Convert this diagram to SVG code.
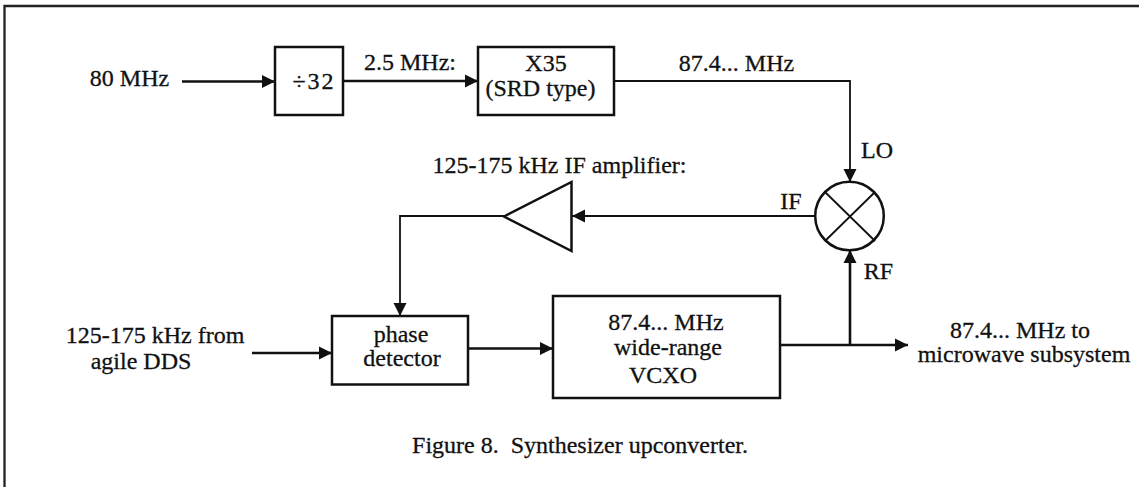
<svg xmlns="http://www.w3.org/2000/svg" width="1139" height="487" viewBox="0 0 1139 487">
<style>
text{font-family:"Liberation Serif","Times New Roman",serif;font-size:24px;fill:#111;stroke:#111;stroke-width:0.300;text-anchor:middle}
.b{fill:#fff;stroke:#111;stroke-width:2.5}
.c{fill:none;stroke:#111;stroke-width:1.800}
.t{stroke-width:2.6}
.f{fill:none;stroke:#222;stroke-width:2.300}
</style>
<defs>
<marker id="a" markerUnits="userSpaceOnUse" markerWidth="14" markerHeight="14" refX="13" refY="7" orient="auto"><path d="M0,0.500L13,7L0,13.500Z" fill="#111"/></marker>
</defs>
<rect width="1139" height="487" fill="#fff"/>
<path class="f" d="M4.500,487V6H1139"/>
<g id="connectors">
<path class="c t" marker-end="url(#a)" d="M182,81.500H275"/>
<path class="c t" marker-end="url(#a)" d="M343,81H478"/>
<path class="c" marker-end="url(#a)" d="M614,81H850V182"/>
<path class="c" marker-end="url(#a)" d="M815,216H572"/>
<path class="c" marker-end="url(#a)" d="M504,216H400V316"/>
<path class="c t" marker-end="url(#a)" d="M252,353H332"/>
<path class="c t" marker-end="url(#a)" d="M468,348.500H553"/>
<path class="c t" marker-end="url(#a)" d="M780,345H908"/>
<path class="c t" marker-end="url(#a)" d="M850,345V250"/>
</g>
<g id="div32"><rect class="b" x="275" y="47" width="68" height="68"/><text x="314" y="88.500" letter-spacing="2">÷32</text></g>
<g id="x35"><rect class="b" x="478" y="47" width="136" height="68"/><text x="546" y="70.500">X35</text><text x="540.500" y="96">(SRD type)</text></g>
<g id="amplifier"><path class="b" d="M504,216.500L571.500,182V251Z"/></g>
<g id="mixer"><circle class="b" cx="849.500" cy="216" r="34.300"/><path class="c" d="M825,192L875,241M875,192L825,241"/></g>
<g id="phase-detector"><rect class="b" x="332" y="316" width="136" height="68.500"/><text x="401" y="341.500">phase</text><text x="402" y="365.500">detector</text></g>
<g id="vcxo"><rect class="b" x="553" y="296" width="227" height="102"/><text x="666" y="329.500">87.4... MHz</text><text x="668" y="355">wide-range</text><text x="663" y="382.500">VCXO</text></g>
<g id="labels">
<text x="129.500" y="86">80 MHz</text>
<text x="410" y="69.500">2.5 MHz:</text>
<text x="736.500" y="70.500">87.4... MHz</text>
<text x="877" y="157.500">LO</text>
<text x="878.500" y="278.500">RF</text>
<text x="791" y="208.500">IF</text>
<text x="559.500" y="172.500">125-175 kHz IF amplifier:</text>
<text x="155" y="342.500">125-175 kHz from</text>
<text x="141" y="368.500">agile DDS</text>
<text x="1020" y="337.500">87.4... MHz to</text>
<text x="1024" y="361.500">microwave subsystem</text>
<text x="580" y="452.500">Figure 8.&#160; Synthesizer upconverter.</text>
</g>
</svg>
